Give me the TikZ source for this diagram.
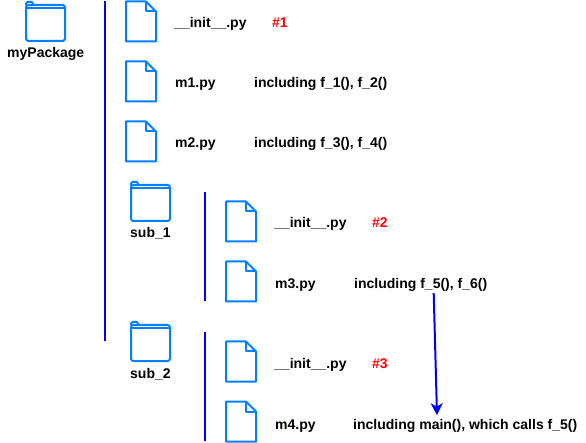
\documentclass[tikz,border=0pt]{standalone}
\usepackage{fontspec}
\setmainfont{Liberation Sans}
\usetikzlibrary{calc,arrows.meta}

\definecolor{iconblue}{RGB}{0,127,255}
\definecolor{barblue}{RGB}{0,0,255}

\tikzset{
  txt/.style={anchor=base west, inner sep=0pt, font=\fontsize{14}{16}\selectfont\bfseries},
  tag/.style={txt, text=red},
  bar/.style={barblue, line width=2pt},
  callarrow/.style={barblue, line width=2pt, -{Stealth[length=12pt, width=12pt, inset=3.5pt]}},
  fileicon/.pic={
    \draw[iconblue, line width=2pt, line join=round]
      (0,0) -- (20,0) -- (30,10) -- (30,40) -- (0,40) -- cycle;
    \draw[iconblue, line width=2pt, line join=round] (20,0) -- (20,10) -- (30,10);
  },
  foldericon/.pic={
    \draw[iconblue, line width=2pt, rounded corners=2.5pt]
      (0,3.5) rectangle (39,39.5);
    \draw[iconblue, line width=2pt, line join=round]
      (0,4) -- (0,2) -- (1.5,0.5) -- (6,0.5) -- (7.5,3.5);
    \draw[iconblue, line width=1.5pt] (0,6.5) -- (39,6.5);
  }
}

\begin{document}
\begin{tikzpicture}[x=1pt, y=-1pt]
  \useasboundingbox (0,0) rectangle (586,443);

  \pic (pkg)   at ( 26,   1.5) {foldericon};
  \pic (sub1)  at (131, 181.5) {foldericon};
  \pic (sub2)  at (131, 321.5) {foldericon};

  \pic (fa)    at (126,   1.5) {fileicon};
  \pic (fb)    at (126,  61.5) {fileicon};
  \pic (fc)    at (126, 121.5) {fileicon};
  \pic (fd)    at (226, 201.5) {fileicon};
  \pic (fe)    at (226, 261.5) {fileicon};
  \pic (ff)    at (226, 341.5) {fileicon};
  \pic (fg)    at (226, 401.5) {fileicon};

  \node[txt] (mypkg)  at (  7,  58) {myPackage};
  \node[txt] (sub1n)  at (130, 238) {sub\_1};
  \node[txt] (sub2n)  at (130, 378) {sub\_2};

  \node[txt] (init1)  at (174,  28) {\_\_init\_\_.py};
  \node[tag] (tag1)   at (272,  28) {\#1};
  \node[txt] (m1)     at (175,  88) {m1.py};
  \node[txt] (incl1)  at (254,  88) {including f\_1(), f\_2()};
  \node[txt] (m2)     at (175, 148) {m2.py};
  \node[txt] (incl2)  at (254, 148) {including f\_3(), f\_4()};

  \node[txt] (init2)  at (274, 228) {\_\_init\_\_.py};
  \node[tag] (tag2)   at (372, 228) {\#2};
  \node[txt] (m3)     at (275, 289) {m3.py};
  \node[txt] (incl3)  at (354, 289) {including f\_5(), f\_6()};

  \node[txt] (init3)  at (274, 368) {\_\_init\_\_.py};
  \node[tag] (tag3)   at (372, 368) {\#3};
  \node[txt] (m4)     at (275, 429) {m4.py};
  \node[txt] (incl4)  at (353, 429) {including main(), which calls f\_5()};

  \coordinate (bar1a) at (105,   1);
  \coordinate (bar1b) at (105, 341);
  \coordinate (bar2a) at (205, 192);
  \coordinate (bar2b) at (205, 301);
  \coordinate (bar3a) at (205, 332);
  \coordinate (bar3b) at (205, 441);

  \draw[bar] (bar1a) -- (bar1b);
  \draw[bar] (bar2a) -- (bar2b);
  \draw[bar] (bar3a) -- (bar3b);

  \coordinate (callfrom) at ($(incl3.south)+(13,1)$);
  \coordinate (callto)   at ($(incl4.north west)+(84,-3.5)$);
  \draw[callarrow] (callfrom) -- (callto);
\end{tikzpicture}
\end{document}
